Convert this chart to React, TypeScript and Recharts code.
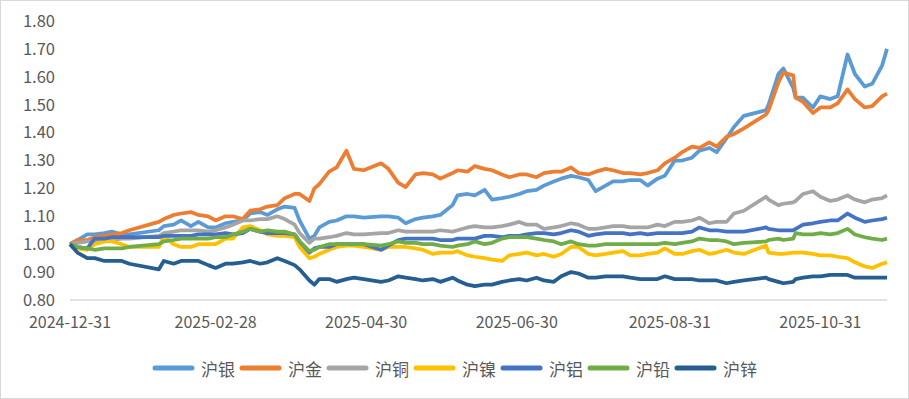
import React from "react";
import { LineChart, Line, XAxis, YAxis, Legend } from "recharts";

const dates = [
  "2024-12-31", "2025-01-03", "2025-01-07", "2025-01-10", "2025-01-14", "2025-01-17", "2025-01-21", "2025-01-24",
  "2025-02-05", "2025-02-07", "2025-02-11", "2025-02-14", "2025-02-18", "2025-02-21", "2025-02-25", "2025-02-28",
  "2025-03-04", "2025-03-07", "2025-03-11", "2025-03-14", "2025-03-18", "2025-03-21", "2025-03-25", "2025-03-28",
  "2025-04-01", "2025-04-03", "2025-04-07", "2025-04-09", "2025-04-11", "2025-04-15", "2025-04-18", "2025-04-22", "2025-04-25", "2025-04-29",
  "2025-05-06", "2025-05-09", "2025-05-13", "2025-05-16", "2025-05-20", "2025-05-23", "2025-05-27", "2025-05-30",
  "2025-06-04", "2025-06-06", "2025-06-10", "2025-06-13", "2025-06-17", "2025-06-20", "2025-06-24", "2025-06-27",
  "2025-07-01", "2025-07-04", "2025-07-08", "2025-07-11", "2025-07-15", "2025-07-18", "2025-07-22", "2025-07-25", "2025-07-29",
  "2025-08-01", "2025-08-05", "2025-08-08", "2025-08-12", "2025-08-15", "2025-08-19", "2025-08-22", "2025-08-26", "2025-08-29",
  "2025-09-02", "2025-09-05", "2025-09-09", "2025-09-12", "2025-09-16", "2025-09-19", "2025-09-23", "2025-09-26", "2025-09-30",
  "2025-10-09", "2025-10-10", "2025-10-14", "2025-10-16", "2025-10-20", "2025-10-21", "2025-10-24", "2025-10-28", "2025-10-31",
  "2025-11-04", "2025-11-07", "2025-11-11", "2025-11-14", "2025-11-18", "2025-11-21", "2025-11-25", "2025-11-27",
];

const silver = [
  1.0, 1.015, 1.035, 1.035, 1.04, 1.045, 1.035, 1.035,
  1.05, 1.065, 1.07, 1.085, 1.065, 1.08, 1.06, 1.06,
  1.075, 1.08, 1.085, 1.11, 1.115, 1.105, 1.125, 1.135,
  1.13, 1.085, 1.02, 1.03, 1.06, 1.08, 1.085, 1.1, 1.1, 1.095,
  1.1, 1.1, 1.095, 1.075, 1.09, 1.095, 1.1, 1.105,
  1.14, 1.175, 1.18, 1.175, 1.195, 1.16, 1.165, 1.17,
  1.18, 1.19, 1.195, 1.21, 1.225, 1.235, 1.245, 1.24, 1.23,
  1.19, 1.21, 1.225, 1.225, 1.23, 1.23, 1.21, 1.235, 1.245,
  1.3, 1.3, 1.31, 1.335, 1.345, 1.33, 1.38, 1.42, 1.46,
  1.48, 1.5, 1.61, 1.63, 1.56, 1.525, 1.525, 1.49, 1.53,
  1.52, 1.53, 1.68, 1.61, 1.565, 1.575, 1.64, 1.7,
];

const gold = [
  1.0, 1.015, 1.015, 1.025, 1.03, 1.035, 1.04, 1.05,
  1.08, 1.09, 1.105, 1.11, 1.115, 1.105, 1.1, 1.085,
  1.1, 1.1, 1.09, 1.12, 1.125, 1.135, 1.14, 1.165,
  1.18, 1.18, 1.155, 1.2, 1.215, 1.26, 1.275, 1.335, 1.27, 1.265,
  1.29, 1.27, 1.22, 1.205, 1.25, 1.255, 1.25, 1.235,
  1.255, 1.265, 1.26, 1.28, 1.27, 1.265, 1.25, 1.24,
  1.25, 1.25, 1.24, 1.255, 1.26, 1.26, 1.275, 1.255, 1.25,
  1.26, 1.27, 1.265, 1.255, 1.255, 1.25, 1.255, 1.265, 1.29,
  1.31, 1.33, 1.35, 1.345, 1.365, 1.35, 1.385, 1.395, 1.415,
  1.465, 1.48, 1.58, 1.615, 1.605, 1.525, 1.51, 1.47, 1.49,
  1.49, 1.505, 1.555, 1.52, 1.49, 1.495, 1.53, 1.54,
];

const copper = [
  1.0, 1.005, 1.01, 1.01, 1.01, 1.015, 1.02, 1.02,
  1.03, 1.04, 1.045, 1.05, 1.05, 1.05, 1.045, 1.05,
  1.06, 1.07, 1.085, 1.085, 1.09, 1.09, 1.1, 1.09,
  1.07, 1.04, 1.005, 1.02, 1.02, 1.025, 1.03, 1.04, 1.035, 1.035,
  1.04, 1.04, 1.05, 1.045, 1.045, 1.045, 1.045, 1.05,
  1.045, 1.05, 1.06, 1.065, 1.06, 1.06, 1.065, 1.07,
  1.08, 1.07, 1.07, 1.055, 1.06, 1.065, 1.075, 1.07, 1.055,
  1.055, 1.06, 1.065, 1.065, 1.06, 1.06, 1.06, 1.07, 1.065,
  1.08, 1.08, 1.085, 1.095, 1.075, 1.08, 1.08, 1.11, 1.12,
  1.17, 1.16, 1.14, 1.145, 1.15, 1.155, 1.18, 1.19, 1.17,
  1.155, 1.16, 1.175, 1.16, 1.15, 1.16, 1.165, 1.175,
];

const nickel = [
  1.0, 0.985, 0.98, 1.0, 1.01, 1.01, 1.0, 0.99,
  0.99, 1.03, 1.0, 0.99, 0.99, 1.0, 1.0, 1.0,
  1.02, 1.02, 1.06, 1.065, 1.05, 1.035, 1.03, 1.03,
  1.025, 0.99, 0.95, 0.955, 0.965, 0.98, 0.99, 0.995, 0.995, 0.99,
  0.98, 0.99, 0.99, 0.99, 0.985, 0.98, 0.965, 0.97,
  0.97, 0.975, 0.96, 0.955, 0.95, 0.945, 0.94, 0.96,
  0.965, 0.97, 0.96, 0.965, 0.955, 0.965, 0.99, 0.99, 0.965,
  0.96, 0.965, 0.97, 0.975, 0.96, 0.96, 0.965, 0.97, 0.985,
  0.965, 0.965, 0.975, 0.98, 0.965, 0.97, 0.98, 0.97, 0.965,
  0.995, 0.97, 0.965, 0.965, 0.97, 0.97, 0.97, 0.965, 0.96,
  0.96, 0.955, 0.95, 0.935, 0.92, 0.915, 0.93, 0.935,
];

const aluminium = [
  1.0, 0.99, 0.985, 1.02, 1.02, 1.025, 1.025, 1.025,
  1.025, 1.03, 1.03, 1.03, 1.03, 1.035, 1.035, 1.035,
  1.04, 1.035, 1.04, 1.055, 1.045, 1.04, 1.04, 1.04,
  1.035, 1.01, 0.97, 0.985, 0.99, 0.99, 1.0, 1.0, 1.0, 1.0,
  0.98, 0.995, 1.015, 1.02, 1.02, 1.02, 1.02, 1.015,
  1.015, 1.02, 1.02, 1.02, 1.03, 1.03, 1.025, 1.03,
  1.03, 1.035, 1.04, 1.04, 1.035, 1.04, 1.05, 1.045, 1.03,
  1.035, 1.04, 1.04, 1.04, 1.035, 1.04, 1.035, 1.04, 1.04,
  1.04, 1.04, 1.045, 1.06, 1.05, 1.05, 1.045, 1.045, 1.045,
  1.06, 1.055, 1.05, 1.05, 1.05, 1.055, 1.07, 1.075, 1.08,
  1.085, 1.085, 1.11, 1.095, 1.08, 1.085, 1.09, 1.095,
];

const lead = [
  1.0, 0.99, 0.985, 0.98, 0.985, 0.985, 0.985, 0.99,
  1.0, 1.01, 1.015, 1.02, 1.02, 1.02, 1.02, 1.025,
  1.025, 1.035, 1.045, 1.055, 1.045, 1.05, 1.045, 1.045,
  1.035, 1.01, 0.975, 0.98, 0.99, 1.0, 1.0, 1.0, 1.0, 1.0,
  0.995, 1.0, 1.01, 1.005, 1.005, 1.0, 1.0, 0.995,
  0.99, 0.995, 1.0, 1.01, 1.0, 1.005, 1.02, 1.025,
  1.025, 1.025, 1.02, 1.015, 1.01, 1.0, 1.01, 1.0, 0.995,
  0.995, 1.0, 1.0, 1.0, 1.0, 1.0, 1.0, 1.0, 1.005,
  1.0, 1.005, 1.01, 1.02, 1.015, 1.015, 1.01, 1.0, 1.005,
  1.01, 1.015, 1.02, 1.015, 1.02, 1.04, 1.035, 1.035, 1.04,
  1.035, 1.04, 1.055, 1.035, 1.025, 1.02, 1.015, 1.02,
];

const zinc = [
  1.0, 0.97, 0.95, 0.95, 0.94, 0.94, 0.94, 0.93,
  0.91, 0.94, 0.93, 0.94, 0.94, 0.94, 0.925, 0.915,
  0.93, 0.93, 0.935, 0.94, 0.93, 0.935, 0.95, 0.94,
  0.925, 0.91, 0.87, 0.855, 0.875, 0.875, 0.865, 0.875, 0.88, 0.875,
  0.865, 0.87, 0.885, 0.88, 0.875, 0.87, 0.875, 0.865,
  0.88, 0.87, 0.855, 0.85, 0.855, 0.855, 0.865, 0.87,
  0.875, 0.87, 0.88, 0.87, 0.865, 0.885, 0.9, 0.895, 0.88,
  0.88, 0.885, 0.885, 0.885, 0.88, 0.875, 0.875, 0.875, 0.885,
  0.875, 0.875, 0.875, 0.87, 0.87, 0.87, 0.86, 0.865, 0.87,
  0.88, 0.875, 0.865, 0.86, 0.865, 0.875, 0.88, 0.885, 0.885,
  0.89, 0.89, 0.89, 0.88, 0.88, 0.88, 0.88, 0.88,
];

const seriesList = [
  { key: "silver", name: "沪银", color: "#5b9bd5", values: silver },
  { key: "gold", name: "沪金", color: "#ed7d31", values: gold },
  { key: "copper", name: "沪铜", color: "#a5a5a5", values: copper },
  { key: "nickel", name: "沪镍", color: "#ffc000", values: nickel },
  { key: "aluminium", name: "沪铝", color: "#4472c4", values: aluminium },
  { key: "lead", name: "沪铅", color: "#70ad47", values: lead },
  { key: "zinc", name: "沪锌", color: "#255e91", values: zinc },
];

const xTickLabels = ["2024-12-31", "2025-02-28", "2025-04-30", "2025-06-30", "2025-08-31", "2025-10-31"];
const yTicks = [0.8, 0.9, 1.0, 1.1, 1.2, 1.3, 1.4, 1.5, 1.6, 1.7, 1.8];

const DAY_MS = 86400000;
const toDay = (s: string) => Math.round((Date.parse(s) - Date.parse(dates[0])) / DAY_MS);

const data = dates.map((d, i) => {
  const row: any = { day: toDay(d) };
  seriesList.forEach((s) => {
    row[s.key] = s.values[i];
  });
  return row;
});
const xTicks = xTickLabels.map(toDay);

const FONT = '"Noto Sans CJK SC", "Noto Sans", sans-serif';
const TEXT = "#595959";

const renderLegend = () => (
  <div
    style={{
      display: "flex",
      justifyContent: "center",
      alignItems: "center",
      height: 30,
      fontFamily: FONT,
      fontSize: 17,
      color: TEXT,
    }}
  >
    {seriesList.map((s, i) => (
      <div key={s.key} style={{ display: "flex", alignItems: "center", marginRight: i < seriesList.length - 1 ? 4 : 0 }}>
        <svg width={43} height={8}>
          <line x1={3} y1={4} x2={40} y2={4} stroke={s.color} strokeWidth={5} strokeLinecap="round" />
        </svg>
        <span style={{ marginLeft: 6 }}>{s.name}</span>
      </div>
    ))}
  </div>
);

const App = () => {
  return (
    <div style={{ position: "absolute", left: 0, top: 0, width: 909, height: 399, background: "#fff", fontFamily: FONT }}>
      <LineChart width={909} height={399} data={data} margin={{ top: 21, right: 22, bottom: 16, left: 0 }}>
        <XAxis
          dataKey="day"
          type="number"
          domain={["dataMin", "dataMax"]}
          ticks={xTicks}
          interval={0}
          tickFormatter={(v: number) => xTickLabels[xTicks.indexOf(v)] ?? ""}
          axisLine={{ stroke: "#d9d9d9", strokeWidth: 1.5 }}
          tickLine={false}
          tickSize={0}
          tickMargin={17}
          height={53}
          tick={{ fill: TEXT, fontSize: 16, fontFamily: FONT }}
        />
        <YAxis
          type="number"
          domain={[0.8, 1.8]}
          ticks={yTicks}
          interval={0}
          tickFormatter={(v: number) => v.toFixed(2)}
          axisLine={false}
          tickLine={false}
          tickSize={0}
          tickMargin={15}
          width={70}
          tick={{ fill: TEXT, fontSize: 16.5, fontFamily: FONT }}
        />
        <Legend verticalAlign="bottom" content={renderLegend} wrapperStyle={{ left: 0, width: 909 }} />
        {seriesList.map((s) => (
          <Line
            key={s.key}
            dataKey={s.key}
            name={s.name}
            type="linear"
            stroke={s.color}
            strokeWidth={3.75}
            strokeLinejoin="round"
            dot={false}
            activeDot={false}
            isAnimationActive={false}
          />
        ))}
      </LineChart>
      <div
        style={{
          position: "absolute",
          left: 0,
          top: 0,
          width: 909,
          height: 399,
          boxSizing: "border-box",
          border: "1px solid #d9d9d9",
          pointerEvents: "none",
        }}
      />
    </div>
  );
};

export default App;
